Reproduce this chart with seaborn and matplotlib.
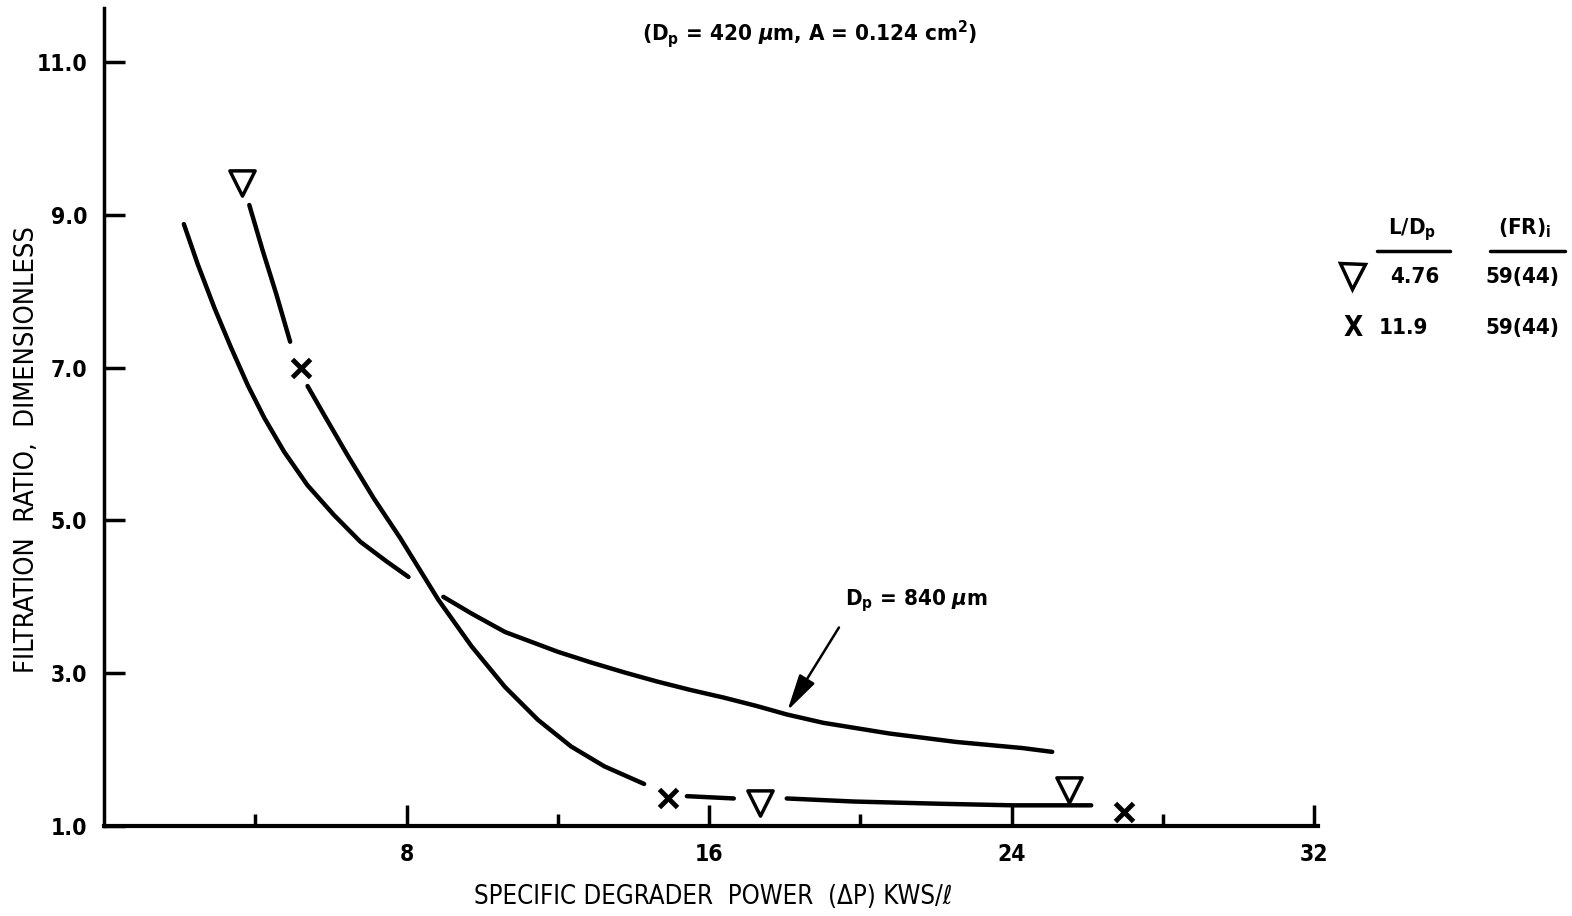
import numpy as np
import pandas as pd
import matplotlib
matplotlib.use("Agg")
import matplotlib.pyplot as plt
import seaborn as sns
from matplotlib.lines import Line2D

# ---------------- data ----------------
# curve for Dp = 840 um (two pieces, broken where it crosses the other curve)
c840_a_x = [2.11, 2.48, 2.92, 3.36, 3.80, 4.24, 4.76, 5.38, 6.08, 6.78, 7.48, 8.05]
c840_a_y = [8.88, 8.35, 7.78, 7.26, 6.77, 6.34, 5.90, 5.46, 5.07, 4.72, 4.46, 4.26]
c840_b_x = [8.97, 9.72, 10.60, 12.0, 12.88, 13.76, 14.63, 15.51, 16.39, 17.26, 18.05,
            19.02, 20.77, 22.53, 24.28, 25.07]
c840_b_y = [4.00, 3.78, 3.54, 3.28, 3.14, 3.01, 2.89, 2.78, 2.68, 2.57, 2.46,
            2.35, 2.21, 2.10, 2.02, 1.97]

# curve for Dp = 420 um (broken around the data symbols)
c420_a_x = [3.84, 4.19, 4.55, 4.92]
c420_a_y = [9.13, 8.54, 7.97, 7.34]
c420_b_x = [5.38, 5.82, 6.43, 7.13, 7.83, 8.84, 9.72, 10.60, 11.47, 12.35, 13.23, 14.28]
c420_b_y = [6.76, 6.38, 5.86, 5.29, 4.77, 3.96, 3.35, 2.82, 2.39, 2.04, 1.78, 1.55]
c420_c_x = [15.41, 16.65]
c420_c_y = [1.39, 1.36]
c420_d_x = [18.05, 19.82, 22.16, 24.05, 26.1]
c420_d_y = [1.36, 1.32, 1.29, 1.27, 1.27]

# data symbols
tri_x = [3.66, 17.34, 25.5]     # L/Dp = 4.76
tri_y = [9.42, 1.30, 1.47]
x_x = [5.20, 14.9, 26.97]       # L/Dp = 11.9
x_y = [6.99, 1.37, 1.18]

x_ticks = [4, 8, 12, 16, 20, 24, 28, 32]
x_labels = ["", "8", "", "16", "", "24", "", "32"]
y_ticks = [1, 3, 5, 7, 9, 11]
y_labels = ["1.0", "3.0", "5.0", "7.0", "9.0", "11.0"]

segments = {
    "840a": (c840_a_x, c840_a_y), "840b": (c840_b_x, c840_b_y),
    "420a": (c420_a_x, c420_a_y), "420b": (c420_b_x, c420_b_y),
    "420c": (c420_c_x, c420_c_y), "420d": (c420_d_x, c420_d_y),
}
rows = []
for seg, (xs, ys) in segments.items():
    for xv, yv in zip(xs, ys):
        rows.append({"seg": seg, "x": xv, "y": yv})
curves = pd.DataFrame(rows)

# ---------------- plot ----------------
sns.set_style("ticks")
plt.rcParams["font.family"] = ["DejaVu Sans"]
plt.rcParams["font.stretch"] = "condensed"
plt.rcParams["font.weight"] = "bold"
plt.rcParams["text.color"] = "black"
plt.rcParams["axes.labelcolor"] = "black"
plt.rcParams["xtick.color"] = "black"
plt.rcParams["ytick.color"] = "black"
plt.rcParams["axes.edgecolor"] = "black"
plt.rcParams["mathtext.default"] = "regular"

fig = plt.figure(figsize=(15.72, 9.16), dpi=100)
ax = fig.add_axes([0.0662, 0.0983, 0.7723, 0.893])

sns.lineplot(data=curves, x="x", y="y", units="seg", estimator=None, sort=False,
             color="black", linewidth=3.2, ax=ax)
sns.scatterplot(x=tri_x, y=tri_y, marker="v", s=330, facecolor="white",
                edgecolor="black", linewidth=2.5, ax=ax, zorder=3)
sns.scatterplot(x=x_x, y=x_y, marker="x", s=170, color="black",
                linewidth=3.5, ax=ax, zorder=3)

ax.set_xlim(0, 32.1)
ax.set_ylim(1, 11.71)
ax.set_xticks(x_ticks)
ax.set_xticklabels(x_labels)
ax.set_yticks(y_ticks)
ax.set_yticklabels(y_labels)
ax.tick_params(axis="both", direction="in", length=15, width=2.5, labelsize=16.5, pad=12)
for t, lab in zip(ax.xaxis.get_major_ticks(), x_labels):
    if lab == "":
        t.tick1line.set_markersize(9)
sns.despine(ax=ax)
ax.spines["left"].set_linewidth(2.5)
ax.spines["bottom"].set_linewidth(3)

ax.set_xlabel("SPECIFIC DEGRADER  POWER  (\u0394P) KWS/\u2113", fontsize=18.5, fontweight="normal")
ax.xaxis.set_label_coords(0.5016, -0.071)
ax.set_ylabel("FILTRATION  RATIO,  DIMENSIONLESS", fontsize=19.5, fontweight="normal")
ax.yaxis.set_label_coords(-0.053, 0.46)

fig.text(0.515, 0.963, "(D$_p$ = 420 $\\mathit{\\mu}$m, A = 0.124 cm$^2$)",
         ha="center", va="center", fontsize=16)

ax.annotate("", xy=(18.03, 2.48), xytext=(19.47, 3.63),
            arrowprops=dict(arrowstyle="-|>,head_length=0.9,head_width=0.22", color="black",
                            lw=1.8, mutation_scale=25))
ax.text(19.6, 3.95, "D$_p$ = 840 $\\mathit{\\mu}$m", fontsize=16, va="center")

# legend table on the right
def fx(px):
    return px / 1572

def fy(py):
    return 1 - py / 916

fig.text(fx(1412), fy(230), "L/D$_p$", ha="center", va="center", fontsize=16)
fig.text(fx(1525), fy(228), "(FR)$_i$", ha="center", va="center", fontsize=16)
fig.add_artist(Line2D([fx(1377), fx(1450)], [fy(251), fy(251)], color="black", lw=2.5))
fig.add_artist(Line2D([fx(1490), fx(1565)], [fy(251), fy(251)], color="black", lw=2.5))
fig.add_artist(Line2D([fx(1352)], [fy(276)], marker="v", markersize=18, markerfacecolor="white",
                      markeredgecolor="black", markeredgewidth=2.5, linestyle="none"))
fig.text(fx(1415), fy(277), "4.76", ha="center", va="center", fontsize=16)
fig.text(fx(1522), fy(277), "59(44)", ha="center", va="center", fontsize=16)
fig.text(fx(1353), fy(328), "X", ha="center", va="center", fontsize=20)
fig.text(fx(1403), fy(328), "11.9", ha="center", va="center", fontsize=16)
fig.text(fx(1522), fy(328), "59(44)", ha="center", va="center", fontsize=16)

fig.savefig("out.png", dpi=100)
